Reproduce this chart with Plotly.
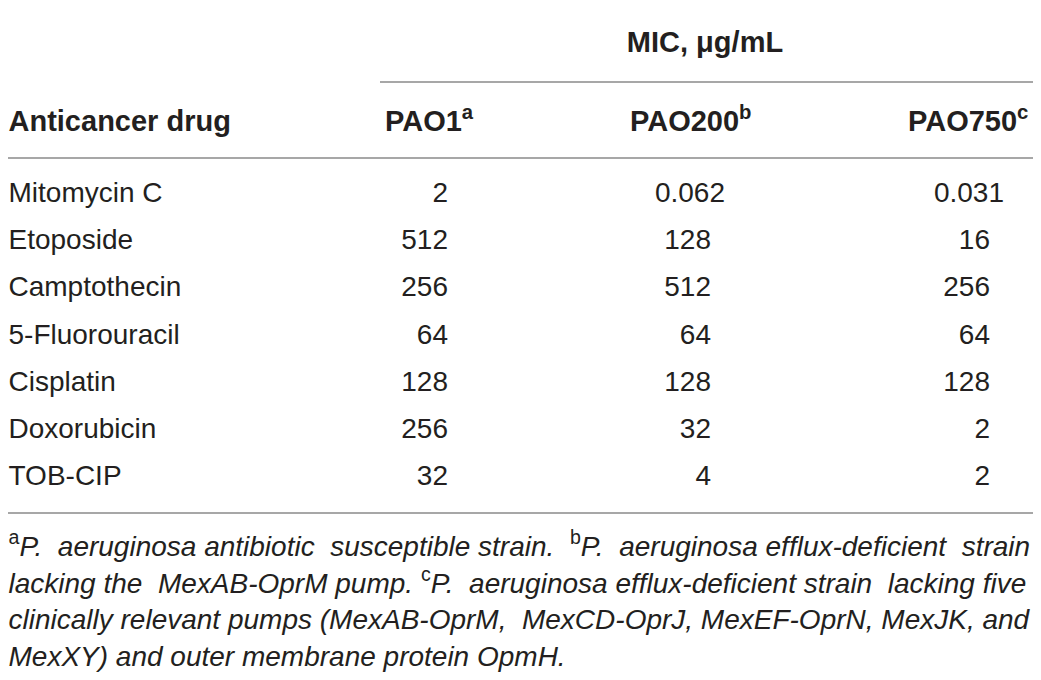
import plotly.graph_objects as go

# table content
drugs = ["Mitomycin C", "Etoposide", "Camptothecin", "5-Fluorouracil",
         "Cisplatin", "Doxorubicin", "TOB-CIP"]
pao1 = [2, 512, 256, 64, 128, 256, 32]
pao200 = [0.062, 128, 512, 64, 128, 32, 4]
pao750 = [0.031, 16, 256, 64, 128, 2, 2]

strains = ["PAO1", "PAO200", "PAO750"]
strain_marks = ["a", "b", "c"]
group_header = "MIC, \u03bcg/mL"
first_header = "Anticancer drug"

footnotes = [
    "<sup>a</sup><i>P. aeruginosa antibiotic susceptible strain. </i><sup>b</sup><i>P. aeruginosa efflux-deficient strain</i>",
    "<i>lacking the MexAB-OprM pump. </i><sup>c</sup><i>P. aeruginosa efflux-deficient strain lacking five</i>",
    "<i>clinically relevant pumps (MexAB-OprM, MexCD-OprJ, MexEF-OprN, MexJK, and</i>",
    "<i>MexXY) and outer membrane protein OpmH.</i>",
]

W, H = 1041, 680
PAD = 8  # page body margin of the html page
FONT = "Liberation Sans"
TXT = "#231f20"
RULE = "#8a8a8a"

# layout of the table (pixel space of the picture)
left_x = 8.5
line_x0, line_x1 = 5, 1035
group_y = 45
group_x = 705
group_line_x0 = 380
header_y = 124
header_left = [385, 630, 908]
col_right = [448, 711, 990]
dec_shift = 14
row0_y = 195
row_h = 47.2
foot0_y = 549
foot_h = 36.5
foot_extra = [5, 3, 1, 0]  # extra spaces to fake justified lines
rules_y = [5, 158, 513]
group_rule_y = 82


def justify(line, extra):
    # spread a few no-break spaces over the word gaps
    words = line.split(" ")
    gaps = len(words) - 1
    if extra <= 0 or gaps <= 0:
        return line
    pick = set(round((k + 0.5) * gaps / extra - 0.5) for k in range(extra))
    out = words[0]
    for g in range(gaps):
        out += (" \u00a0" if g in pick else " ") + words[g + 1]
    return out


cols = [pao1, pao200, pao750]
row_y = [row0_y + i * row_h for i in range(len(drugs))]

fig = go.Figure()

# first column
fig.add_trace(go.Scatter(
    x=[left_x] * len(drugs), y=row_y, text=drugs, mode="text",
    textposition="middle right", cliponaxis=False,
    textfont=dict(family=FONT, size=28, color=TXT),
    hoverinfo="skip", showlegend=False))

# value columns, right aligned
for ci, vals in enumerate(cols):
    labels = [f"{v:g}" for v in vals]
    xs = [col_right[ci] + (dec_shift if "." in s else 0) for s in labels]
    fig.add_trace(go.Scatter(
        x=xs, y=row_y, text=labels, mode="text",
        textposition="middle left", cliponaxis=False,
        textfont=dict(family=FONT, size=28, color=TXT),
        hoverinfo="skip", showlegend=False))

# headers
hdr_text = [f"<b>{first_header}</b>"] + [
    f"<b>{s}<sup>{m}</sup></b>" for s, m in zip(strains, strain_marks)]
fig.add_trace(go.Scatter(
    x=[left_x] + header_left, y=[header_y] * 4, text=hdr_text, mode="text",
    textposition="middle right", cliponaxis=False,
    textfont=dict(family=FONT, size=29, color=TXT),
    hoverinfo="skip", showlegend=False))

fig.add_trace(go.Scatter(
    x=[group_x], y=[group_y], text=[f"<b>{group_header}</b>"], mode="text",
    textposition="middle center", cliponaxis=False,
    textfont=dict(family=FONT, size=29, color=TXT),
    hoverinfo="skip", showlegend=False))

# footnotes
fig.add_trace(go.Scatter(
    x=[left_x] * len(footnotes),
    y=[foot0_y + i * foot_h for i in range(len(footnotes))],
    text=[justify(t, e) for t, e in zip(footnotes, foot_extra)],
    mode="text", textposition="middle right", cliponaxis=False,
    textfont=dict(family=FONT, size=28, color=TXT),
    hoverinfo="skip", showlegend=False))

# horizontal rules
for yy in rules_y:
    fig.add_shape(type="line", x0=line_x0, x1=line_x1, y0=yy, y1=yy,
                  xref="x", yref="y", line=dict(color=RULE, width=1.5))
fig.add_shape(type="line", x0=group_line_x0, x1=line_x1,
              y0=group_rule_y, y1=group_rule_y,
              xref="x", yref="y", line=dict(color=RULE, width=1.5))

fig.update_xaxes(range=[PAD, W], visible=False, fixedrange=True)
fig.update_yaxes(range=[H, PAD], visible=False, fixedrange=True)
fig.update_layout(
    width=W - PAD, height=H - PAD,
    margin=dict(l=0, r=0, t=0, b=0),
    paper_bgcolor="white", plot_bgcolor="white",
)

fig.write_html("out.html")
